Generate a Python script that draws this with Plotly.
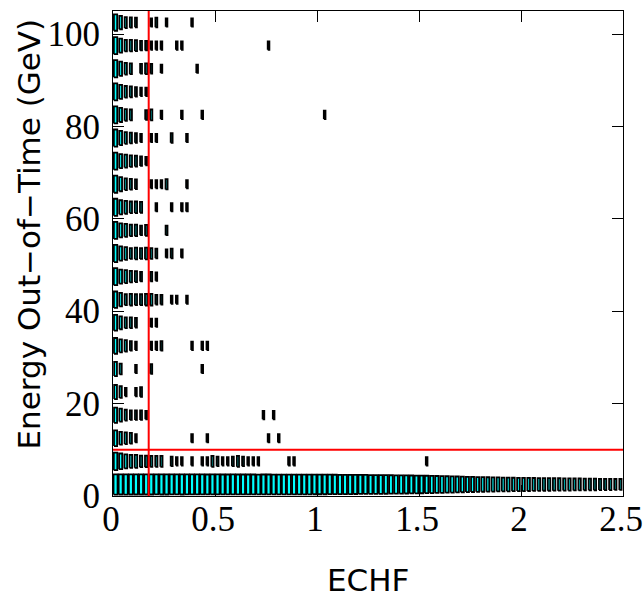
import math
import plotly.graph_objects as go

# ---------------- data ----------------
X_BIN = 0.025          # ECHF bin width
Y_BIN = 5.0            # Energy out-of-time bin width (GeV)
X_RANGE = [0, 2.5]
Y_RANGE = [0, 105]
ECHF_CUT = 0.175
EOOT_CUT = 10.0

x_tick_vals = [0, 0.5, 1, 1.5, 2, 2.5]
x_tick_text = ["0", "0.5", "1", "1.5", "2", "2.5"]
y_tick_vals = [0, 20, 40, 60, 80, 100]
y_tick_text = ["0", "20", "40", "60", "80", "100"]

# 0-5 GeV row: counts in every ECHF bin (100 bins)
row_000_005 = [620, 600, 610, 590, 600, 580, 590, 600, 570, 580,
               590, 560, 570, 580, 560, 550, 570, 560, 540, 550,
               560, 540, 530, 550, 540, 520, 530, 540, 510, 520,
               520, 500, 510, 490, 500, 480, 490, 470, 480, 460,
               450, 440, 420, 400, 390, 380, 360, 350, 330, 320,
               300, 290, 270, 260, 240, 230, 210, 200, 185, 170,
               150, 135, 120, 105, 95, 80, 70, 60, 52, 45,
               40, 34, 30, 27, 24, 22, 20, 18, 16, 15,
               14, 13, 12, 11, 10, 10, 9, 9, 8, 8,
               7, 7, 6, 6, 6, 5, 5, 5, 4, 4]

# other rows: {ECHF bin index: count}
row_005_010 = {0: 150, 1: 55, 2: 23, 3: 12, 4: 12, 5: 6, 6: 6, 7: 4, 8: 4, 9: 4,
               11: 2, 12: 1, 13: 1, 15: 1, 17: 1, 18: 1, 19: 4, 20: 2, 21: 1,
               22: 1, 23: 2, 24: 4, 25: 2, 26: 1, 27: 1, 28: 1, 34: 1, 35: 1, 61: 1}
row_010_015 = {0: 55, 1: 12, 2: 6, 3: 4, 4: 1, 15: 1, 18: 1, 30: 1, 32: 1}
row_015_020 = {0: 43, 1: 12, 2: 4, 3: 2, 4: 2, 5: 2, 6: 1, 29: 1, 31: 1}
row_020_025 = {0: 23, 1: 6, 2: 1, 4: 1, 5: 2}
row_025_030 = {0: 23, 1: 4, 4: 1, 7: 2, 17: 1}
row_030_035 = {0: 55, 1: 12, 2: 6, 3: 2, 4: 1, 7: 1, 8: 1, 9: 2, 15: 1, 17: 1, 18: 1}
row_035_040 = {0: 55, 1: 12, 2: 4, 3: 4, 4: 2, 7: 1, 8: 1}
row_040_045 = {0: 80, 1: 16, 2: 4, 3: 6, 4: 4, 5: 4, 6: 6, 7: 6, 8: 2, 9: 2,
               11: 1, 12: 1, 14: 1}
row_045_050 = {0: 115, 1: 23, 2: 12, 3: 6, 4: 4, 5: 2, 7: 2, 8: 1}
row_050_055 = {0: 115, 1: 23, 2: 12, 3: 4, 4: 6, 5: 4, 6: 6, 7: 4, 8: 2,
               10: 1, 11: 2, 13: 1}
row_055_060 = {0: 115, 1: 23, 2: 12, 3: 6, 4: 6, 5: 2, 6: 4, 10: 2}
row_060_065 = {0: 115, 1: 23, 2: 12, 3: 6, 4: 6, 5: 4, 8: 1, 11: 1, 13: 1, 14: 1}
row_065_070 = {0: 115, 1: 23, 2: 6, 3: 4, 4: 2, 7: 1, 8: 1, 9: 1, 10: 3, 14: 1}
row_070_075 = {0: 115, 1: 23, 2: 12, 3: 6, 4: 4, 5: 2, 6: 1}
row_075_080 = {0: 115, 1: 23, 2: 6, 3: 4, 4: 2, 5: 1, 7: 1, 8: 1, 11: 2, 14: 1}
row_080_085 = {0: 115, 1: 23, 2: 6, 3: 4, 6: 2, 7: 4, 9: 1, 13: 1, 17: 1, 41: 1}
row_085_090 = {0: 115, 1: 23, 2: 6, 3: 4, 4: 2, 5: 1, 6: 1}
row_090_095 = {0: 115, 1: 23, 2: 6, 3: 4, 5: 2, 6: 4, 7: 2, 9: 1, 16: 1}
row_095_100 = {0: 115, 1: 23, 2: 6, 3: 6, 4: 4, 5: 2, 6: 2, 7: 1, 8: 1, 9: 1,
               12: 1, 13: 1, 30: 1}
row_100_105 = {0: 80, 1: 16, 2: 4, 3: 3, 4: 2, 7: 1, 8: 2, 10: 1, 15: 1}

energy_rows = [dict(enumerate(row_000_005)), row_005_010, row_010_015, row_015_020,
               row_020_025, row_025_030, row_030_035, row_035_040, row_040_045,
               row_045_050, row_050_055, row_055_060, row_060_065, row_065_070,
               row_070_075, row_075_080, row_080_085, row_085_090, row_090_095,
               row_095_100, row_100_105]

# ---------------- box geometry from counts (ROOT-like "BOX" drawing) ----------------
C_MAX = 3000.0
S_MIN = 0.36
BOX_W_FACTOR = 0.9


def box_scale(c):
    return S_MIN + (1 - S_MIN) * math.log10(c) / math.log10(C_MAX)


xs, ys = [], []
for k, row in enumerate(energy_rows):
    yc = (k + 0.5) * Y_BIN
    for i, c in row.items():
        if c <= 0:
            continue
        s = box_scale(c)
        xc = (i + 0.5) * X_BIN
        hw = 0.5 * X_BIN * s * BOX_W_FACTOR
        hh = 0.5 * Y_BIN * s
        xs += [xc - hw, xc + hw, xc + hw, xc - hw, xc - hw, None]
        ys += [yc - hh, yc - hh, yc + hh, yc + hh, yc - hh, None]

fig = go.Figure()
fig.add_trace(go.Scatter(x=xs, y=ys, mode="lines", fill="toself",
                         fillcolor="#00FFFF", line=dict(color="black", width=1.8),
                         hoverinfo="skip", showlegend=False))

# cut lines
fig.add_shape(type="line", xref="x", yref="y", x0=ECHF_CUT, x1=ECHF_CUT,
              y0=Y_RANGE[0], y1=Y_RANGE[1], line=dict(color="red", width=2))
fig.add_shape(type="line", xref="x", yref="y", x0=X_RANGE[0], x1=X_RANGE[1],
              y0=EOOT_CUT, y1=EOOT_CUT, line=dict(color="red", width=2))

tick_font = dict(family="Liberation Serif", size=35, color="black")
axis_common = dict(showgrid=False, zeroline=False, showline=True, linecolor="black",
                   linewidth=1, mirror="ticks", ticks="inside", ticklen=11,
                   tickwidth=1, tickcolor="black", tickfont=tick_font,
                   ticklabeloverflow="allow", automargin=False)

fig.update_xaxes(range=X_RANGE, tickvals=x_tick_vals, ticktext=x_tick_text,
                 ticklabelstandoff=-8, ticklabelshift=-2, **axis_common)
fig.update_yaxes(range=Y_RANGE, tickvals=y_tick_vals, ticktext=y_tick_text,
                 ticklabelstandoff=5, **axis_common)

title_font = dict(family="DejaVu Sans", size=31, color="black")
fig.add_annotation(text="ECHF", xref="paper", yref="paper", x=0.5, y=0,
                   xanchor="center", yanchor="middle", yshift=-84,
                   showarrow=False, font=title_font)
fig.add_annotation(text="Energy Out\u2212of\u2212Time (GeV)", xref="paper", yref="paper",
                   x=(28 - 113) / 510, y=1, xanchor="center", yanchor="top",
                   yshift=-6, textangle=-90, showarrow=False, font=title_font)

# plot frame at x 113..623, y 11..496 of the 644x602 window
fig.update_layout(width=644, height=602,
                  margin=dict(l=113, r=21, t=11, b=106, autoexpand=False),
                  paper_bgcolor="white", plot_bgcolor="white")

# remove the default page margin / scrollbars so the figure fills the window
fig.write_html("out.html",
               config={"displayModeBar": False},
               post_script="document.body.style.margin='0';"
                           "document.body.style.overflow='hidden';")
